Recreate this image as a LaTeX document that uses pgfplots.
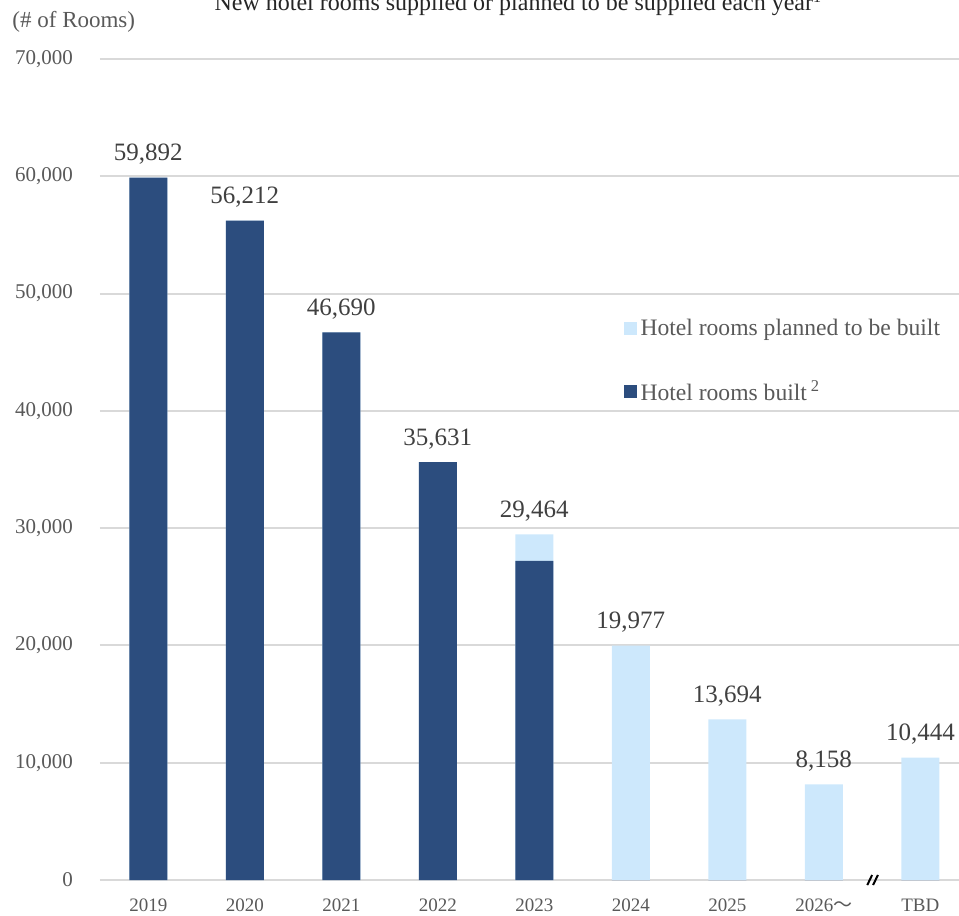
\documentclass[border=0pt]{standalone}
\usepackage{fontspec}
\setmainfont{Liberation Serif}
\newfontfamily\cjk{Noto Sans CJK JP}
\usepackage{pgfplots}
\pgfplotsset{compat=1.18}
\usepackage{pgfplotstable}
\definecolor{darkb}{HTML}{2C4D7E}
\definecolor{lightb}{HTML}{CDE8FC}
\definecolor{txt}{HTML}{595959}
\definecolor{lbl}{HTML}{404040}
\definecolor{gridc}{HTML}{D9D9D9}

\pgfplotstableread{
x built total lbl
0 59892 59892 59,892
1 56212 56212 56,212
2 46690 46690 46,690
3 35631 35631 35,631
4 27200 29464 29,464
5 0 19977 19,977
6 0 13694 13,694
7 0 8158 8,158
8 0 10444 10,444
}\datatab

\begin{document}
\begin{tikzpicture}
\begin{axis}[
  scale only axis, width=429.5pt, height=410.5pt,
  xmin=-0.5, xmax=8.4, ymin=0, ymax=70000,
  ybar, bar width=19pt, bar shift=0pt,
  clip=false,
  axis line style={draw=none},
  ymajorgrids, grid style={gridc, line width=1pt},
  ytick={0,10000,...,70000},
  scaled y ticks=false,
  /pgf/number format/1000 sep={,},
  /pgf/number format/assume math mode=true,
  major tick length=0pt,
  xtick={0,...,8},
  xticklabels={2019,2020,2021,2022,2023,2024,2025,{2026{\cjk ～}},TBD},
  xticklabel style={font=\fontsize{9.5}{11}\selectfont, text=txt, yshift=-6pt},
  yticklabel style={font=\fontsize{10.5}{12}\selectfont, text=txt, xshift=-10pt},
  legend style={at={(0.602,0.632)}, anchor=west, draw=none, fill=none,
    font=\fontsize{11.8}{14}\selectfont, text=txt, row sep=17pt,
    /tikz/every even column/.append style={column sep=2pt}},
  legend cell align=left,
  legend image code/.code={\fill[#1] (0pt,-3.25pt) rectangle (6.5pt,3.25pt);},
]
\addplot[fill=lightb, draw=none, nodes near coords, point meta=explicit symbolic,
  nodes near coords style={font=\fontsize{12.5}{14}\selectfont, text=lbl, anchor=south, yshift=3pt}]
  table[x=x, y=total, meta=lbl]{\datatab};
\addlegendentry{Hotel rooms planned to be built}
\addplot[fill=darkb, draw=none] table[x=x, y=built]{\datatab};
\addlegendentry{Hotel rooms built\,\textsuperscript{2}}
\draw[black, line width=1pt] (axis cs:7.45,-430) -- (axis cs:7.50,430);
\draw[black, line width=1pt] (axis cs:7.51,-430) -- (axis cs:7.56,430);
\node[anchor=west, text=txt, font=\fontsize{11.5}{13}\selectfont, inner sep=0pt] at (rel axis cs:-0.1024,1.0455) {(\# of Rooms)};
\node[anchor=base, text=black!85, font=\fontsize{12}{14}\selectfont, inner sep=0pt] at (rel axis cs:0.487,1.0585) {New hotel rooms supplied or planned to be supplied each year\textsuperscript{1}};
\coordinate (O) at (rel axis cs:0,0);
\end{axis}
\pgfresetboundingbox
\path[use as bounding box] ([shift={(-50pt,-18pt)}]O) rectangle ++(479.5pt,458pt);
\end{tikzpicture}
\end{document}
